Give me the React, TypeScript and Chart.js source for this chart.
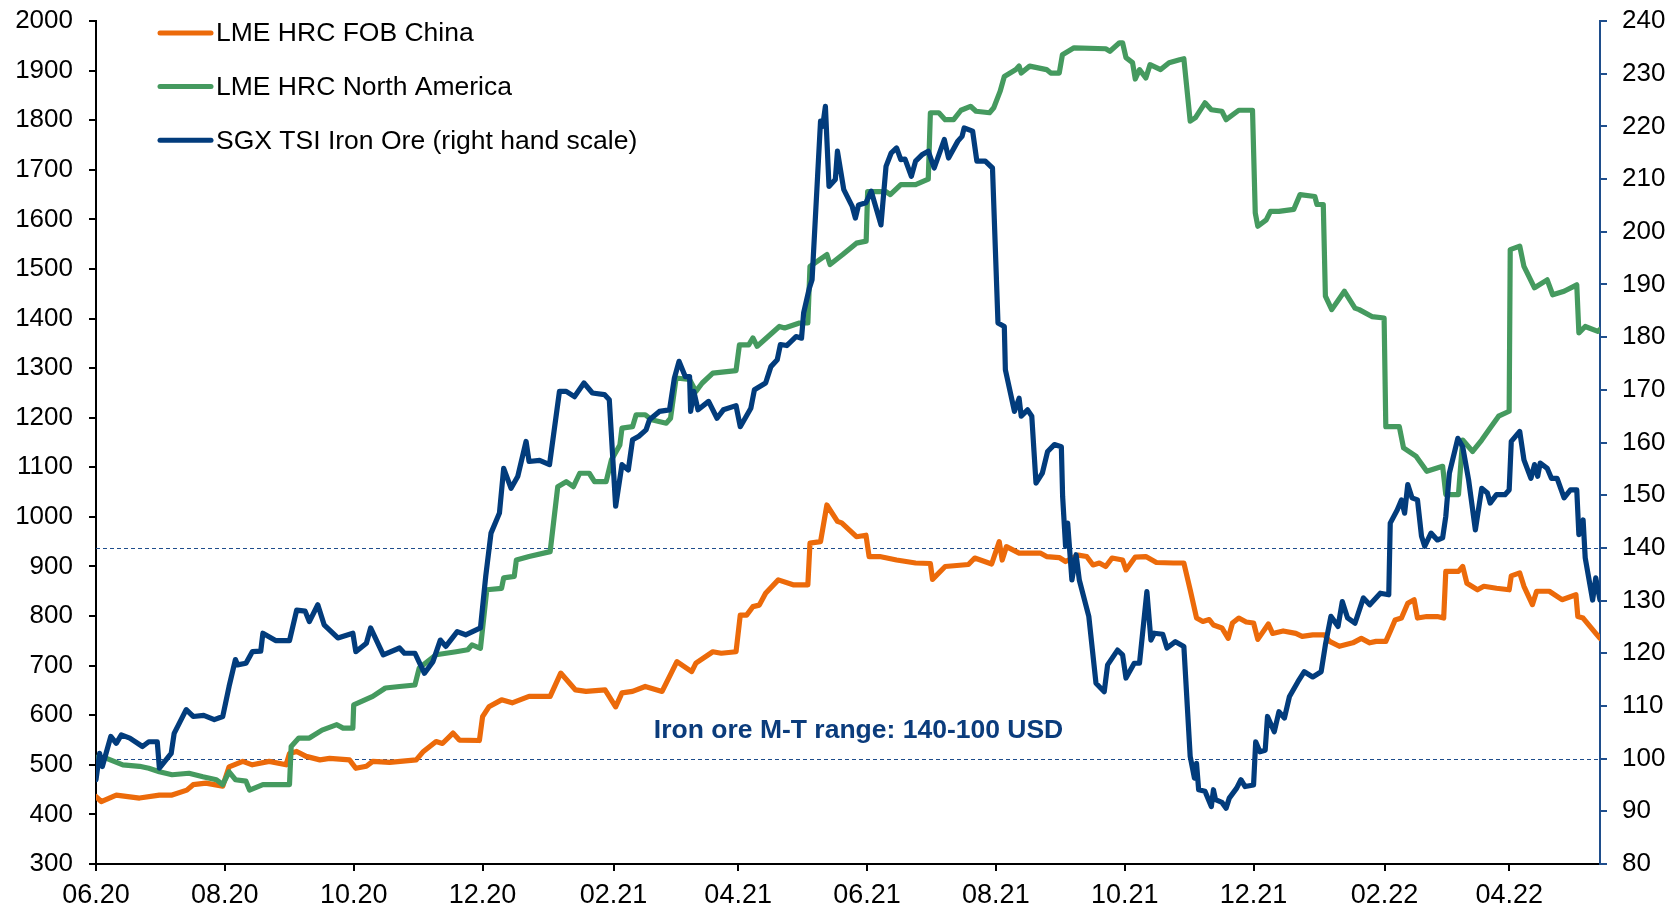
import React, { useEffect, useRef } from "react";
import { Chart, registerables } from "chart.js";

Chart.register(...registerables);

// x values are days since 1 June 2020
const tickDays = [0, 61, 122, 183, 245, 304, 365, 426, 487, 548, 610, 669];
const tickLabels = ["06.20", "08.20", "10.20", "12.20", "02.21", "04.21", "06.21", "08.21", "10.21", "12.21", "02.22", "04.22"];

const chinaDays = [0, 2.5, 9.6, 20.6, 30, 36, 43, 46, 52, 60, 63, 69.5, 74, 82, 90, 91.6, 95, 99.5, 106, 110.6, 120, 123, 128, 131, 139, 151.6, 155, 161, 164, 169, 172, 181.5, 183, 186, 192, 197, 205, 215, 220, 227, 232, 241, 246, 249, 254, 260, 268, 275, 282, 284, 292, 296, 303, 305, 308, 311, 314, 317, 323, 330, 337, 338, 343, 346, 351, 353, 360, 364.5, 366, 371, 379, 388, 395, 396, 402, 413, 416, 424, 427.6, 429, 431, 437, 447, 450, 456, 459, 465, 469, 472, 475, 478, 481, 486, 487.6, 492, 497, 502, 510, 515, 518, 521, 524, 527, 529, 533, 536, 538, 541, 544.5, 548, 550, 555, 557, 562, 568, 571, 576, 581.5, 584, 588.6, 595, 599, 603, 606, 610.6, 613, 615, 618, 621, 624, 625.6, 630, 635, 638, 639, 645, 647, 649, 654, 657, 663, 669, 670, 674, 676, 680, 682, 688, 694, 700.6, 701.5, 704, 710, 712];
const chinaValues = [436, 426, 439, 433, 439, 439, 449, 460, 463, 457, 496, 507, 500, 507, 500, 523, 527, 517, 510, 513, 510, 493, 497, 507, 505, 510, 527, 547, 543, 564, 550, 549, 597, 617, 631, 625, 638, 638, 685, 651, 648, 651, 617, 645, 648, 658, 648, 708, 688, 705, 728, 725, 728, 802, 802, 819, 822, 846, 873, 863, 863, 947, 950, 1024, 991, 988, 960, 963, 920, 920, 913, 907, 906, 874, 900, 904, 917, 905, 950, 913, 940, 927, 927, 920, 918, 910, 923, 920, 903, 907, 900, 917, 913, 893, 919, 920, 908, 907, 907, 853, 796, 789, 793, 782, 776, 755, 786, 796, 788, 786, 753, 784, 765, 770, 765, 759, 762, 762, 749, 739, 746, 755, 746, 749, 749, 772, 792, 796, 826, 833, 796, 799, 799, 796, 890, 890, 900, 866, 853, 860, 856, 853, 881, 887, 860, 823, 850, 850, 833, 843, 799, 796, 765, 755];

const naDays = [0, 5, 12.7, 20.6, 25, 30, 36, 44, 50.6, 57, 60, 63, 66, 71, 72.7, 79, 85, 91.6, 92.4, 96, 101, 107, 114, 117, 121.6, 122, 131, 137, 143.7, 151, 153, 161, 170.5, 176, 178, 182, 185, 192, 193, 198, 199, 205, 215, 218.6, 222.6, 226, 229, 233.5, 236, 241.5, 244, 248, 249, 254, 255.7, 260, 263, 270, 272, 274.6, 281, 284, 287, 292, 303, 304.6, 309, 311, 313, 323.5, 326, 333, 337, 338, 346, 347.5, 353.5, 360, 364.6, 365.3, 374, 376, 381, 388, 394, 395, 399, 402, 406, 409.5, 414, 416.6, 423, 425, 428, 430, 435.5, 437, 438, 442, 450, 452, 456, 457.5, 463, 478, 480, 484.5, 486, 487.6, 490.7, 492, 494, 497, 499, 504, 508, 513, 515, 518, 520.5, 525, 528, 533, 535, 541, 547.5, 548.8, 550, 554, 556, 560, 567, 570, 577, 578, 581, 582, 585, 591, 596, 598, 604, 609.8, 610.6, 617, 619, 625, 630, 637.5, 639, 645, 647, 651.7, 656, 660, 664, 669, 669.5, 674, 676, 681, 687, 689.6, 695, 701, 702, 705, 711, 712];
const naValues = [515, 513, 500, 497, 493, 486, 480, 483, 476, 470, 460, 486, 470, 467, 449, 460, 460, 460, 537, 554, 554, 570, 581, 574, 574, 621, 638, 655, 658, 661, 695, 722, 728, 732, 742, 735, 853, 856, 877, 880, 913, 920, 930, 1061, 1071, 1061, 1088, 1088, 1071, 1071, 1115, 1145, 1179, 1182, 1206, 1206, 1196, 1189, 1199, 1280, 1277, 1253, 1270, 1290, 1295, 1347, 1347, 1361, 1344, 1384, 1381, 1391, 1391, 1505, 1529, 1509, 1529, 1552, 1556, 1656, 1656, 1650, 1670, 1670, 1681, 1815, 1815, 1801, 1801, 1820, 1828, 1818, 1815, 1825, 1858, 1888, 1902, 1909, 1895, 1909, 1902, 1895, 1895, 1932, 1946, 1944, 1939, 1956, 1956, 1926, 1916, 1883, 1902, 1885, 1912, 1902, 1916, 1922, 1924, 1798, 1805, 1835, 1821, 1818, 1801, 1820, 1820, 1613, 1586, 1599, 1616, 1616, 1620, 1650, 1646, 1630, 1630, 1445, 1418, 1455, 1421, 1418, 1404, 1401, 1182, 1182, 1139, 1122, 1092, 1102, 1045, 1045, 1155, 1132, 1155, 1179, 1203, 1213, 1539, 1546, 1505, 1462, 1478, 1448, 1455, 1468, 1371, 1384, 1374, 1378];

const oreDays = [0, 1.7, 3, 7, 9.6, 12, 16, 22, 25, 29, 30, 35.6, 37, 42.7, 46, 51, 56, 60, 63, 66, 67, 71, 74, 78, 79, 85, 91.6, 95, 99, 101, 105, 108, 114.5, 121.6, 123, 128, 130, 136, 143.7, 146, 151, 155.5, 159.5, 163, 165.6, 171, 175, 182, 184.5, 187, 191, 193, 196.5, 199.7, 203.6, 205, 210, 214.7, 219.4, 222.6, 226.5, 231, 235, 240.7, 243, 246, 249, 252, 254, 257, 260.4, 262, 266.7, 271.5, 273.8, 276, 279, 281, 281.5, 283, 285, 290, 294, 297, 303, 305, 310, 311.7, 317, 319.5, 322.5, 324, 327, 331.4, 334, 335, 337.7, 339, 341.6, 343, 344, 345.3, 347, 350, 351, 354, 358, 359.5, 361, 364.5, 367, 371.6, 374, 376.4, 379, 381, 383, 386, 388, 391, 394, 396.8, 401.6, 403.6, 408, 410, 411, 415, 417, 421, 424.4, 427, 430, 430.5, 434.8, 437, 438, 441, 443, 445, 448, 450.5, 453.7, 457, 457.6, 459, 460, 462, 464, 465.5, 470, 473.4, 477.3, 478.9, 483.6, 486, 487.6, 491.5, 494, 497.5, 499.4, 501, 505, 507, 511, 515, 518, 520, 521, 522, 525, 528, 529, 530, 533, 535, 536.5, 540, 542, 544, 548, 549, 551, 553.5, 554.6, 557.8, 560, 562.6, 565, 569, 572, 576, 580, 582, 584.6, 588, 590, 592.5, 596, 600, 603, 608, 612, 612.7, 616, 618, 619.5, 621, 623, 625.6, 627.5, 629, 632, 635, 637.5, 639, 640.7, 644.7, 647, 649.8, 653, 656, 658.7, 660, 663, 667, 669, 670, 674, 676, 679.3, 681, 682.5, 683.7, 687, 689, 691.7, 695, 698, 701, 702, 704, 705, 708.5, 710, 712];
const oreValues = [96.0, 101.0, 98.5, 104.2, 102.9, 104.5, 103.9, 102.3, 103.2, 103.2, 98.2, 101.0, 104.8, 109.3, 108.0, 108.2, 107.4, 108.0, 113.7, 118.8, 117.8, 118.1, 120.3, 120.4, 123.8, 122.4, 122.4, 128.2, 128.0, 126.0, 129.2, 125.4, 122.9, 123.8, 120.3, 121.9, 124.8, 119.7, 121.0, 120.0, 120.0, 116.2, 118.4, 122.5, 121.3, 124.1, 123.5, 124.8, 134.6, 142.8, 146.6, 155.1, 151.3, 153.6, 160.2, 156.4, 156.6, 155.8, 169.7, 169.7, 168.7, 171.3, 169.4, 169.1, 168.1, 147.9, 155.8, 154.8, 160.5, 161.2, 162.4, 164.3, 165.9, 166.2, 172.2, 175.4, 172.5, 172.5, 165.9, 169.7, 166.2, 167.8, 164.6, 166.2, 167.0, 163.0, 166.5, 170.0, 171.3, 174.4, 175.7, 178.6, 178.4, 180.1, 179.8, 184.6, 189.3, 190.9, 210.5, 221.0, 220.0, 223.8, 208.6, 209.9, 215.3, 208.0, 204.8, 202.6, 205.1, 205.5, 207.7, 201.3, 212.4, 214.9, 215.9, 213.7, 213.8, 210.5, 213.4, 214.6, 215.3, 212.1, 217.5, 214.0, 217.2, 218.1, 219.7, 219.1, 213.4, 213.4, 212.1, 182.7, 182.0, 173.8, 165.9, 168.4, 165.0, 166.2, 165.0, 152.3, 154.2, 158.3, 159.6, 159.2, 149.8, 140.3, 144.7, 133.9, 138.7, 133.9, 127.0, 114.3, 112.7, 117.8, 120.6, 119.7, 115.3, 118.1, 118.1, 131.7, 122.5, 123.8, 123.6, 121.0, 122.2, 121.3, 100.4, 96.3, 99.1, 94.1, 93.8, 90.9, 94.1, 92.2, 91.7, 90.6, 92.5, 94.4, 96.0, 94.7, 95.0, 103.2, 101.3, 101.6, 108.0, 105.1, 108.9, 107.7, 111.8, 114.6, 116.5, 115.5, 116.5, 121.6, 127.0, 125.1, 129.8, 126.7, 125.7, 130.5, 129.2, 131.4, 131.1, 144.7, 147.2, 149.1, 146.6, 152.0, 149.5, 149.1, 142.2, 140.3, 142.8, 141.5, 141.9, 146.0, 154.2, 160.8, 159.2, 152.9, 143.4, 151.3, 150.4, 148.5, 150.1, 150.1, 151.0, 160.2, 162.1, 156.7, 153.2, 155.8, 153.6, 156.1, 155.1, 153.2, 153.2, 149.5, 151.0, 151.0, 142.5, 145.3, 138.1, 130.1, 134.3, 130.1];

const rangeLevels = [140, 100];
const rangeText = "Iron ore M-T range: 140-100 USD";
const rangeTextDay = 361;
const rangeTextValue = 105.3;

const ORANGE = "#EC6A0A";
const GREEN = "#459A5F";
const BLUE = "#023C7C";
const FONT = "'Liberation Sans', Arial, sans-serif";

const toPoints = (days: number[], vals: number[]) => days.map((d, i) => ({ x: d, y: vals[i] }));

const overlayPlugin = {
  id: "overlay",
  beforeDatasetsDraw(chart: any) {
    const { ctx, chartArea, scales } = chart;
    ctx.save();
    ctx.strokeStyle = "#1F4E8C";
    ctx.lineWidth = 1.2;
    ctx.setLineDash([4, 3]);
    rangeLevels.forEach((v) => {
      const y = Math.round(scales.y1.getPixelForValue(v)) + 0.5;
      ctx.beginPath();
      ctx.moveTo(chartArea.left, y);
      ctx.lineTo(chartArea.right, y);
      ctx.stroke();
    });
    ctx.setLineDash([]);
    ctx.font = `bold 26.5px ${FONT}`;
    ctx.fillStyle = "#0B3C7C";
    ctx.textAlign = "center";
    ctx.textBaseline = "middle";
    ctx.fillText(rangeText, scales.x.getPixelForValue(rangeTextDay), scales.y1.getPixelForValue(rangeTextValue));
    ctx.restore();
  },
  afterDraw(chart: any) {
    const { ctx } = chart;
    ctx.save();
    ctx.font = `26.5px ${FONT}`;
    ctx.textAlign = "left";
    ctx.textBaseline = "middle";
    chart.data.datasets.forEach((ds: any, i: number) => {
      const y = 33 + i * 53.6;
      ctx.strokeStyle = ds.borderColor;
      ctx.lineWidth = 5;
      ctx.lineCap = "round";
      ctx.beginPath();
      ctx.moveTo(160, y);
      ctx.lineTo(211, y);
      ctx.stroke();
      ctx.fillStyle = "#000";
      ctx.fillText(ds.label, 216, y + 1);
    });
    ctx.restore();
  },
};

const noPad = (s: any) => {
  s.paddingTop = 0;
  s.paddingBottom = 0;
  s.paddingLeft = 0;
  s.paddingRight = 0;
};

export default function App() {
  const ref = useRef<HTMLCanvasElement | null>(null);
  useEffect(() => {
    if (!ref.current) return;
    const tickFont = { family: FONT, size: 26 };
    const chart = new Chart(ref.current, {
      type: "line",
      data: {
        datasets: [
          { label: "LME HRC FOB China", data: toPoints(chinaDays, chinaValues), borderColor: ORANGE, yAxisID: "y", order: 2 },
          { label: "LME HRC North America", data: toPoints(naDays, naValues), borderColor: GREEN, yAxisID: "y", order: 1 },
          { label: "SGX TSI Iron Ore (right hand scale)", data: toPoints(oreDays, oreValues), borderColor: BLUE, yAxisID: "y1", order: 0 },
        ],
      },
      options: {
        animation: false,
        responsive: false,
        devicePixelRatio: 1,
        layout: { padding: { top: 21, left: 0, right: 0, bottom: 0 }, autoPadding: false },
        elements: {
          point: { radius: 0 },
          line: { borderWidth: 5.2, tension: 0, borderJoinStyle: "round", borderCapStyle: "round", fill: false },
        },
        plugins: { legend: { display: false }, tooltip: { enabled: false } },
        events: [],
        scales: {
          x: {
            type: "linear",
            position: "bottom",
            min: 0,
            max: 712,
            afterBuildTicks: (s: any) => {
              s.ticks = tickDays.map((v) => ({ value: v }));
            },
            afterFit: (s: any) => {
              s.height = 45;
              noPad(s);
            },
            grid: { drawOnChartArea: false, drawTicks: true, tickLength: 7, color: "#000", lineWidth: 2 },
            border: { display: true, color: "#000", width: 2 },
            ticks: {
              autoSkip: false,
              maxRotation: 0,
              padding: 8,
              color: "#000",
              font: { family: FONT, size: 27 },
              callback: (v: any) => {
                const i = tickDays.indexOf(Number(v));
                return i >= 0 ? tickLabels[i] : "";
              },
            },
          },
          y: {
            type: "linear",
            position: "left",
            min: 300,
            max: 2000,
            afterFit: (s: any) => {
              s.width = 96;
              noPad(s);
            },
            grid: { drawOnChartArea: false, drawTicks: true, tickLength: 7, color: "#000", lineWidth: 2 },
            border: { display: true, color: "#000", width: 2 },
            ticks: { stepSize: 100, padding: 16, color: "#000", font: tickFont, callback: (v: any) => String(v) },
          },
          y1: {
            type: "linear",
            position: "right",
            min: 80,
            max: 240,
            afterFit: (s: any) => {
              s.width = 79;
              noPad(s);
            },
            grid: { drawOnChartArea: false, drawTicks: true, tickLength: 7, color: "#1F4E8C", lineWidth: 2 },
            border: { display: true, color: "#1F4E8C", width: 2 },
            ticks: { stepSize: 10, padding: 15, color: "#000", font: tickFont, callback: (v: any) => String(v) },
          },
        },
      },
      plugins: [overlayPlugin],
    } as any);
    return () => chart.destroy();
  }, []);
  return (
    <div style={{ position: "fixed", left: 0, top: 0, width: 1679, height: 909, background: "#fff" }}>
      <canvas ref={ref} width={1679} height={909} style={{ display: "block", width: 1679, height: 909 }} />
    </div>
  );
}
